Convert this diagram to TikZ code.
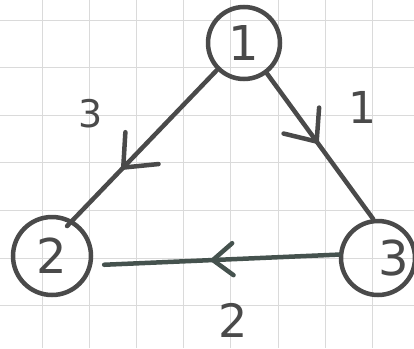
\documentclass[tikz,border=0pt]{standalone}
\usepackage{fontspec}
\setmainfont{DejaVu Sans}
\usetikzlibrary{arrows.meta,decorations.markings}
\definecolor{ink}{HTML}{4A4A4A}
\definecolor{inkg}{HTML}{45524E}
\definecolor{gridc}{HTML}{DADADA}
\begin{document}
\begin{tikzpicture}[x=1pt,y=-1pt,
  vertex/.style={circle,draw=ink,line width=4.5pt,inner sep=0pt,text=ink,font=\fontsize{48}{48}\selectfont},
  edge/.style={draw=ink,line width=4.5pt,line cap=round},
  midarrow/.style args={#1:#2:#3}{postaction={decorate},decoration={markings,mark=at position #1 with {\arrow[line width=4.5pt]{Straight Barb[length=#2pt,width=#3pt,round]}}}},
  wlabel/.style={text=ink,inner sep=0pt},
  gridline/.style={draw=gridc,line width=0.9pt}]
\useasboundingbox (0,0) rectangle (414,348);
\fill[white] (0,0) rectangle (414,348);
% grid paper
\foreach \k in {0,...,7} {
  \draw[gridline] ({42+47.2*\k},0) -- ({42+47.2*\k},348);
}
\foreach \k in {0,...,6} {
  \draw[gridline] (0,{20+47.6*\k}) -- (414,{20+47.6*\k});
}
% vertices
\node[vertex,minimum size=72pt] (n1) at (244,43) {1};
\node[vertex,minimum size=78pt] (n2) at (52,256) {2};
\node[vertex,minimum size=74pt] (n3) at (378,258) {\makebox[0pt]{\hspace{32pt}3}};
% edges
\draw[edge,shorten >=-8pt,midarrow={0.66:27:46}] (n1.-135) -- (n2.60);
\draw[edge,midarrow={0.48:26:44}] (n1.-53) -- (n3.97);
\draw[edge,draw=inkg,shorten >=12pt,midarrow={0.52:20:32}] (n3.175) -- (n2.-13);
% weights
\node[wlabel,font=\fontsize{38}{38}\selectfont] (w12) at (91,114) {3};
\node[wlabel,font=\fontsize{44}{44}\selectfont] (w13) at (362,107) {1};
\node[wlabel,font=\fontsize{46}{46}\selectfont] (w32) at (233,320) {2};
\end{tikzpicture}
\end{document}
